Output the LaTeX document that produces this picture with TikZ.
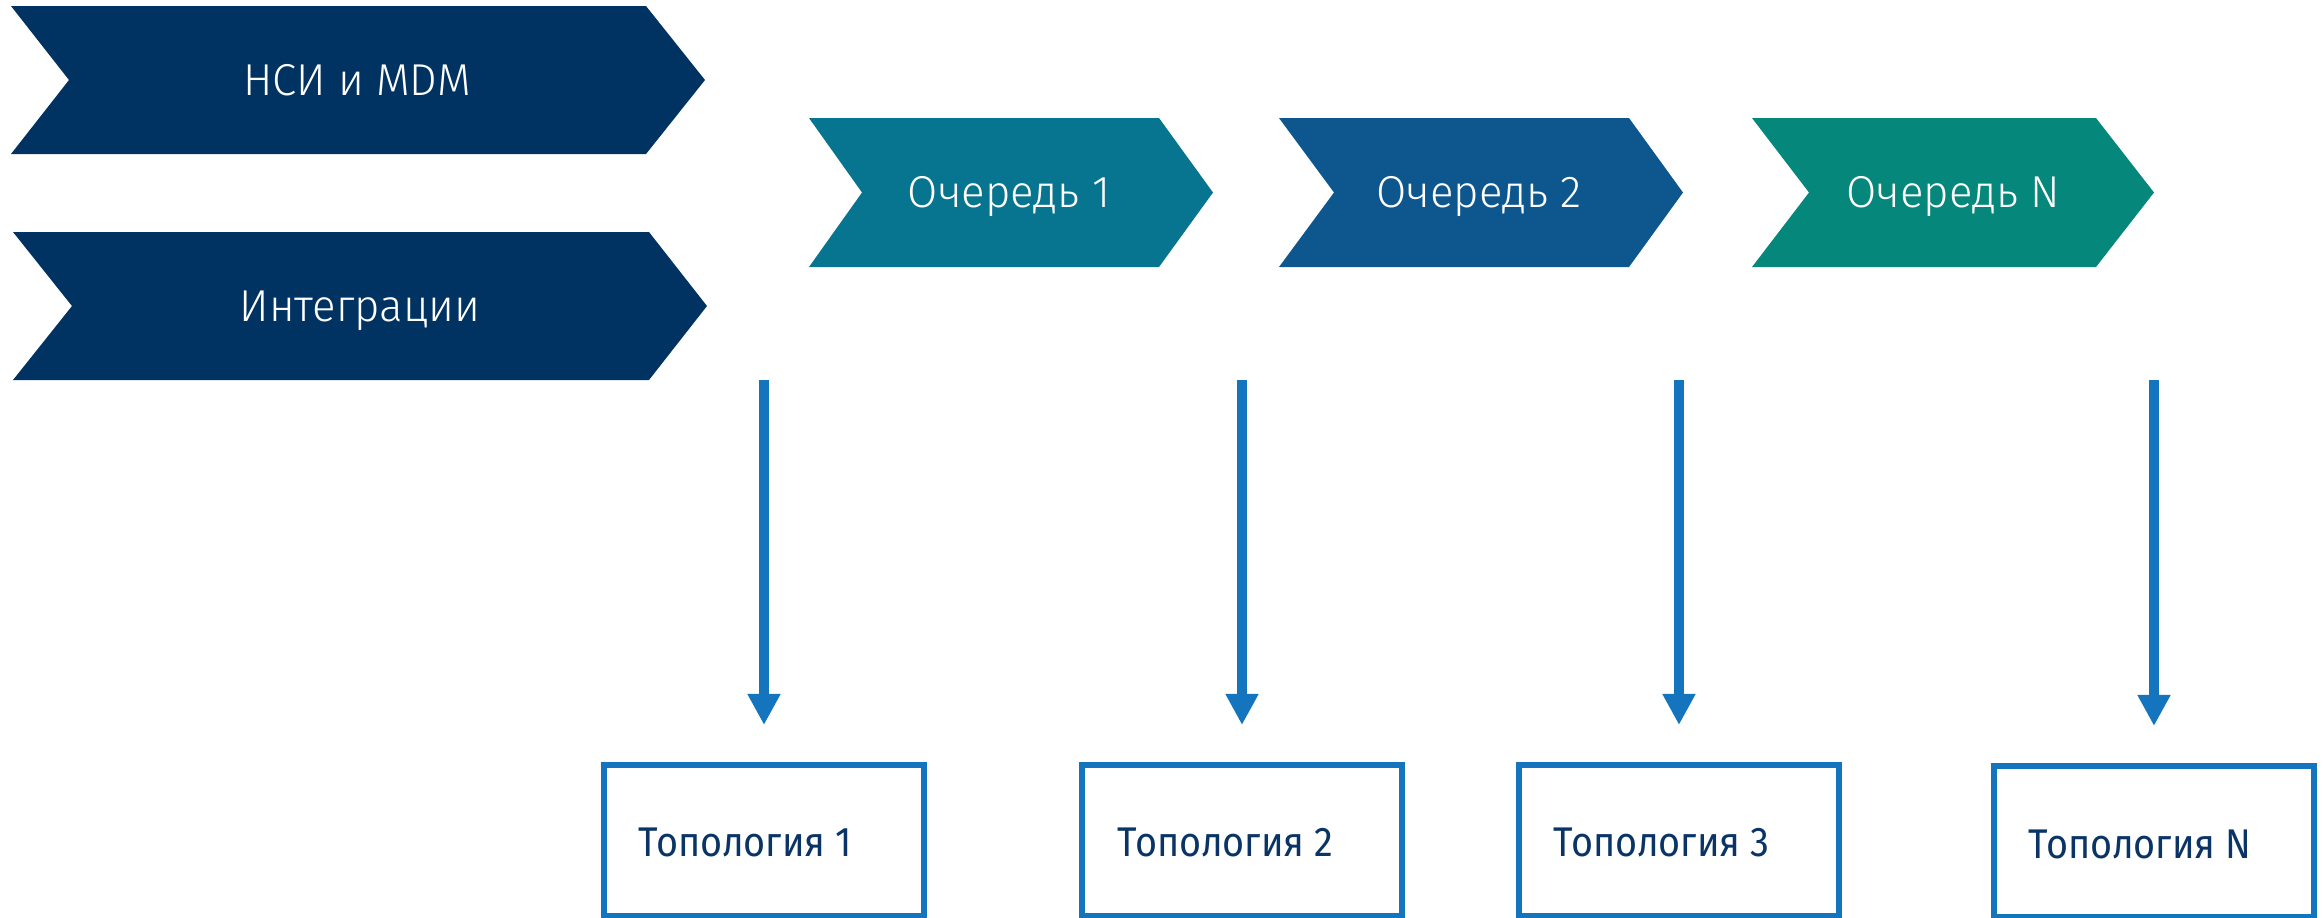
\documentclass[tikz,border=0pt]{standalone}
\usepackage{fontspec}
\setmainfont{Fira Sans}
\newfontfamily\topofont{Fira Sans}[FakeStretch=0.91]
\IfFontExistsTF{Fira Sans Light}{\newfontfamily\lightfont{Fira Sans Light}[FakeStretch=0.98]}{%
  \newfontfamily\lightfont{Fira Sans}[FakeStretch=0.98]}
\usetikzlibrary{arrows.meta,calc}
\definecolor{navy}{HTML}{003362}
\definecolor{qone}{HTML}{077490}
\definecolor{qtwo}{HTML}{0D578E}
\definecolor{qn}{HTML}{05877B}
\definecolor{arrblue}{HTML}{1474BE}
\definecolor{txtnavy}{HTML}{0A3465}
\tikzset{
  chevtext/.style={text=white, font=\lightfont\fontsize{12.7}{14}\selectfont, inner sep=0pt, anchor=base},
  topobox/.style={draw=arrblue, line width=0.06cm, fill=white, minimum width=3.2cm, minimum height=1.51cm, inner sep=0pt},
  topotext/.style={text=txtnavy, font=\topofont\fontsize{11.8}{13}\selectfont, inner sep=0pt, anchor=base west},
  downarrow/.style={draw=arrblue, line width=0.1cm, -{Triangle[width=0.31cm,length=0.31cm]}, shorten >=0.37cm}
}
\newcommand{\chevshape}[7]{% color, xleft, ytop, xcorner, tip depth, ybottom, notch depth
  \fill[#1] (#2,#3) -- (#4,#3) -- ({#4+#5},{(#3+#6)/2}) -- (#4,#6) -- (#2,#6) -- ({#2+#7},{(#3+#6)/2}) -- cycle;}
\begin{document}
\begin{tikzpicture}[x=0.01cm,y=-0.01cm]
\useasboundingbox (0,0) rectangle (2323,917);
% chevrons
\chevshape{navy}{11}{6}{646}{59}{154}{58}
\chevshape{navy}{13}{232}{649}{58}{380}{59}
\chevshape{qone}{809}{118}{1159}{54}{267}{53}
\chevshape{qtwo}{1279}{118}{1629}{54}{267}{55}
\chevshape{qn}{1752}{118}{2096}{58}{267}{57}
\node[chevtext] (nsi) at (357,95) {НСИ и MDM};
\node[chevtext] (integ) at (360,321) {Интеграции};
\node[chevtext] (q1) at (1009,207) {Очередь 1};
\node[chevtext] (q2) at (1479,207) {Очередь 2};
\node[chevtext] (qN) at (1953,207) {Очередь N};
% boxes
\node[topobox] (b1) at (764,840.5) {};
\node[topobox] (b2) at (1242,840.5) {};
\node[topobox] (b3) at (1679,840.5) {};
\node[topobox] (bN) at (2154,841.5) {};
\node[topotext] (l1) at (638,856) {Топология 1};
\node[topotext] (l2) at (1117,856) {Топология 2};
\node[topotext] (l3) at (1553,856) {Топология 3};
\node[topotext] (lN) at (2028,858) {Топология N};
% arrows
\coordinate (a1) at (764,380);
\coordinate (a2) at (1242,380);
\coordinate (a3) at (1679,380);
\coordinate (aN) at (2154,380);
\draw[downarrow] (a1) -- (b1.north);
\draw[downarrow] (a2) -- (b2.north);
\draw[downarrow] (a3) -- (b3.north);
\draw[downarrow] (aN) -- (bN.north);
\end{tikzpicture}
\end{document}
